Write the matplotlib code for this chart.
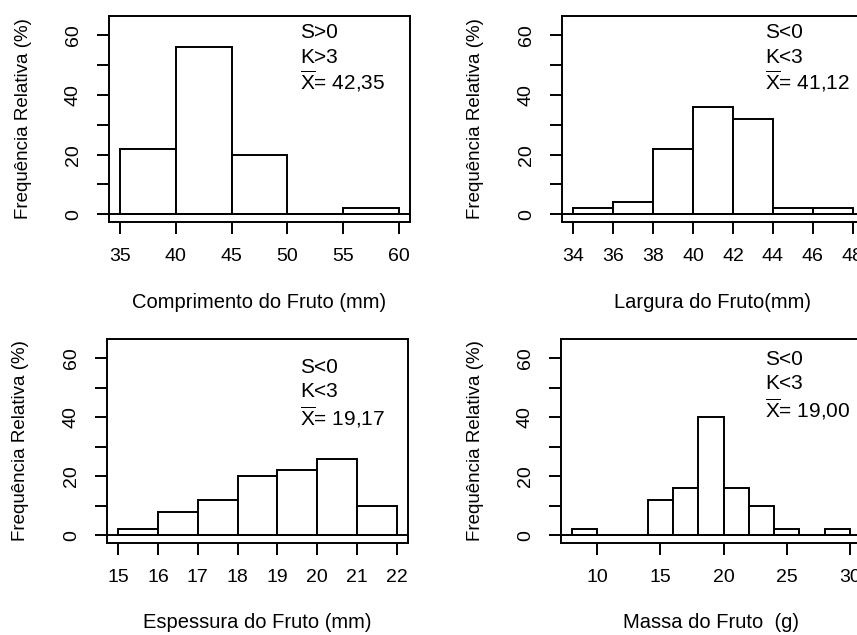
import matplotlib
matplotlib.use("Agg")
import matplotlib.pyplot as plt
import numpy as np

plt.rcParams["font.family"] = ["Liberation Sans", "DejaVu Sans"]
plt.rcParams["mathtext.fontset"] = "custom"
plt.rcParams["mathtext.rm"] = "Liberation Sans"
plt.rcParams["mathtext.it"] = "Liberation Sans:italic"

# Histogram data (relative frequency, %)
comp_edges = [35, 40, 45, 50, 55, 60]
comp_freq = [22, 56, 20, 0, 2]

larg_edges = [34, 36, 38, 40, 42, 44, 46, 48]
larg_freq = [2, 4, 22, 36, 32, 2, 2]

esp_edges = [15, 16, 17, 18, 19, 20, 21, 22]
esp_freq = [2, 8, 12, 20, 22, 26, 10]

massa_edges = [8, 10, 12, 14, 16, 18, 20, 22, 24, 26, 28, 30]
massa_freq = [2, 0, 0, 12, 16, 40, 16, 10, 2, 0, 2]

xlabels = ["Comprimento do Fruto (mm)", "Largura do Fruto(mm)",
           "Espessura do Fruto (mm)", "Massa do Fruto  (g)"]
xticks = [[35, 40, 45, 50, 55, 60], [34, 36, 38, 40, 42, 44, 46, 48],
          [15, 16, 17, 18, 19, 20, 21, 22], [10, 15, 20, 25, 30]]
notes = [["S>0", "K>3", "42,35"], ["S<0", "K<3", "41,12"],
         ["S<0", "K<3", "19,17"], ["S<0", "K<3", "19,00"]]

W, H = 857, 635
fig = plt.figure(figsize=(W / 100, H / 100), dpi=100)

# axes boxes in pixels: left, top, width, height
boxes = [(109, 16, 301, 206), (562, 16, 302, 206),
         (107, 339, 301, 204), (561, 339, 300, 204)]
# annotation positions (axes fraction): x, baselines
note_pos = [(0.635, [0.892, 0.773, 0.644]), (0.672, [0.892, 0.773, 0.644]),
            (0.641, [0.832, 0.714, 0.578]), (0.68, [0.873, 0.754, 0.614])]

data = [(comp_edges, comp_freq), (larg_edges, larg_freq),
        (esp_edges, esp_freq), (massa_edges, massa_freq)]

lw = 1.4
for i, (edges, freq) in enumerate(data):
    l, t, w, h = boxes[i]
    ax = fig.add_axes([l / W, 1 - (t + h) / H, w / W, h / H])
    edges = np.array(edges, dtype=float)
    ax.bar(edges[:-1], freq, width=np.diff(edges), align="edge",
           facecolor="white", edgecolor="black", linewidth=lw, zorder=2)
    ax.axhline(0, color="black", linewidth=lw, zorder=3)
    span = edges[-1] - edges[0]
    ax.set_xlim(edges[0] - 0.04 * span, edges[-1] + 0.04 * span)
    ax.set_ylim(-2.6, 66.5)
    ax.set_yticks([0, 10, 20, 30, 40, 50, 60])
    ax.set_yticklabels(["0", "", "20", "", "40", "", "60"], rotation=90,
                       va="center")
    ax.set_xticks(xticks[i])
    ax.tick_params(direction="out", length=8.5, width=lw, labelsize=14,
                   colors="black")
    ax.tick_params(axis="x", pad=10)
    ax.tick_params(axis="y", pad=11)
    for s in ax.spines.values():
        s.set_linewidth(lw)

    ax.set_xlabel(xlabels[i], fontsize=14.5, va="center")
    ax.xaxis.set_label_coords(0.5, -(80 / h))
    ax.set_ylabel("Frequência Relativa (%)", fontsize=13.5, va="center")
    ax.yaxis.set_label_coords(-(86 / w), 0.5)

    nx, ny = note_pos[i]
    ax.text(nx, ny[0], notes[i][0], transform=ax.transAxes, fontsize=15,
            va="baseline")
    ax.text(nx, ny[1], notes[i][1], transform=ax.transAxes, fontsize=15,
            va="baseline")
    ax.text(nx, ny[2], r"$\overline{\mathrm{X}}$= " + notes[i][2],
            transform=ax.transAxes, fontsize=15, va="baseline")

fig.savefig("out.png", dpi=100)
